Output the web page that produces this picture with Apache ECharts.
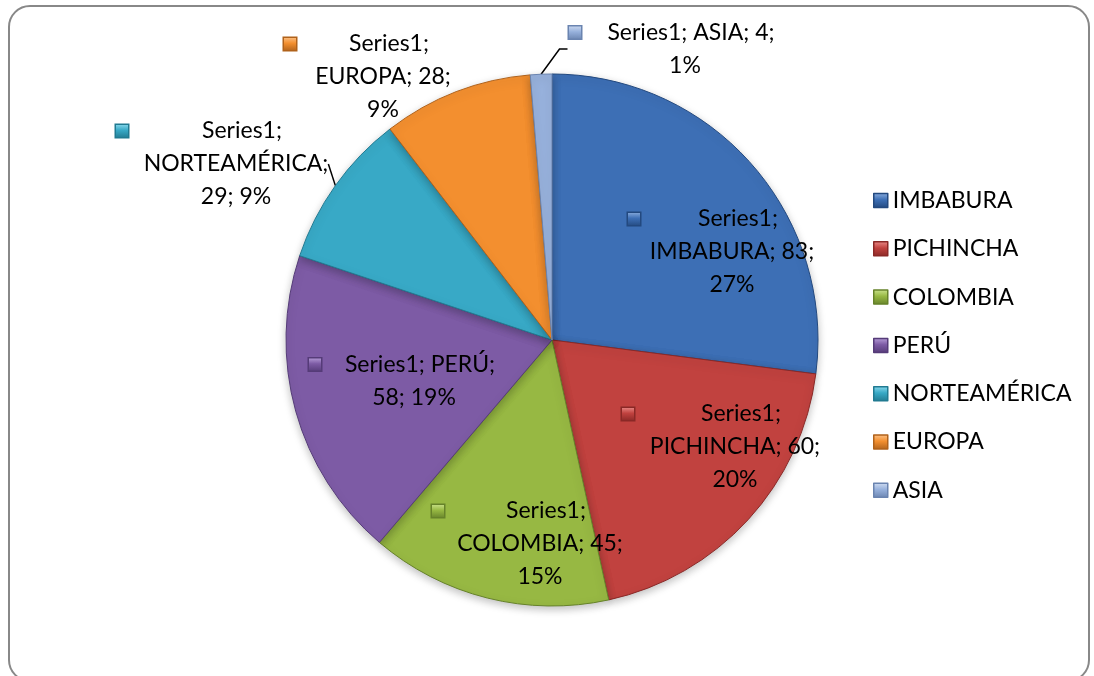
<!DOCTYPE html>
<html>
<head>
<meta charset="utf-8">
<script src="https://cdn.jsdelivr.net/npm/echarts@6/dist/echarts.min.js"></script>
<style>
html, body { margin: 0; padding: 0; background: #fff; overflow: hidden; }
#frame {
  position: absolute; left: 8px; top: 5px; width: 1082px; height: 677px;
  border: 2px solid #888; border-radius: 22px; box-sizing: border-box;
}
#main { position: absolute; left: 0; top: 0; width: 1094px; height: 676px; }
</style>
</head>
<body>
<div id="frame"></div>
<div id="main"></div>
<script>
const seriesName = 'Series1';
const categories = ['IMBABURA', 'PICHINCHA', 'COLOMBIA', 'PERÚ', 'NORTEAMÉRICA', 'EUROPA', 'ASIA'];
const values = [83, 60, 45, 58, 29, 28, 4];

const colors = ['#3d6fb5', '#c1423f', '#97b843', '#7d5ba5', '#38a9c6', '#f38f2f', '#97b1dc'];
const lightColors = ['#8fb0e0', '#ec8e8b', '#cde48f', '#bba3dc', '#8fdcef', '#fcc48c', '#d2def2'];
const edgeColors = ['#23497f', '#8a2826', '#66822a', '#553b78', '#217a91', '#b0621b', '#6a84b0'];

// label placement: centre x, centre y, box width, line split, outside?
const labelBox = [
  [732, 252, 208, 'name'],
  [735, 447, 226, 'name'],
  [540, 544, 216, 'name'],
  [414, 381, 210, 'pair'],
  [236, 164, 240, 'name', true],
  [383, 77, 198, 'name', true],
  [685, 49, 232, 'one', true]
];

const total = values.reduce((a, b) => a + b, 0);

function labelText(i) {
  const pct = Math.round(values[i] / total * 100) + '%';
  const n = categories[i], v = values[i];
  let lines;
  if (labelBox[i][3] === 'pair') lines = [seriesName + '; ' + n + ';', v + '; ' + pct];
  else if (labelBox[i][3] === 'one') lines = [seriesName + '; ' + n + '; ' + v + ';', pct];
  else if (i === 4) lines = [seriesName + ';', n + ';', v + '; ' + pct];
  else lines = [seriesName + ';', n + '; ' + v + ';', pct];
  return lines.map((l, k) => (k === 0 ? '{m' + i + '|}' : '') + '{c|' + l + '}').join('\n');
}

function markerFill(i) {
  return new echarts.graphic.LinearGradient(0, 0, 0, 1, [
    { offset: 0, color: lightColors[i] },
    { offset: 0.45, color: colors[i] },
    { offset: 1, color: edgeColors[i] }
  ]);
}

const rich = { c: { align: 'center', fontSize: 23, lineHeight: 33, color: '#000', fontFamily: 'Lato' } };
categories.forEach((c, i) => {
  rich['m' + i] = {
    align: 'left', width: 12, height: 12,
    backgroundColor: markerFill(i), borderColor: edgeColors[i], borderWidth: 1.5
  };
});

const data = categories.map((name, i) => ({
  name: name,
  value: values[i],
  itemStyle: { color: colors[i], borderColor: edgeColors[i] },
  label: {
    position: labelBox[i][4] ? 'outside' : 'inside',
    width: labelBox[i][2],
    formatter: labelText(i),
    rich: rich
  },
  labelLine: i === 4 ? { show: true, length: 0, length2: 0 } : { show: i === 6 }
}));

const chart = echarts.init(document.getElementById('main'));
chart.setOption({
  backgroundColor: 'transparent',
  animation: false,
  legend: {
    orient: 'vertical',
    left: 868,
    top: 184,
    itemWidth: 14,
    itemHeight: 14,
    itemGap: 25.3,
    icon: 'rect',
    data: categories.map((c, i) => ({
      name: c,
      itemStyle: { color: markerFill(i), borderColor: edgeColors[i], borderWidth: 1.5 }
    })),
    textStyle: { fontSize: 23, lineHeight: 20, color: '#000', fontFamily: 'Lato' }
  },
  series: [{
    name: seriesName,
    type: 'pie',
    center: [552, 340],
    radius: 266,
    startAngle: 90,
    clockwise: true,
    avoidLabelOverlap: false,
    itemStyle: {
      borderWidth: 1,
      shadowBlur: 8,
      shadowColor: 'rgba(0,0,0,0.25)',
      shadowOffsetY: 3
    },
    emphasis: { disabled: true },
    label: { show: true },
    labelLine: { show: false, length: 12, length2: 8, lineStyle: { color: '#000', width: 1.5 } },
    labelLayout: function (params) {
      const b = labelBox[params.dataIndex];
      return { x: b[0], y: b[1], align: 'center', verticalAlign: 'middle' };
    },
    data: data
  }]
});
</script>
</body>
</html>
